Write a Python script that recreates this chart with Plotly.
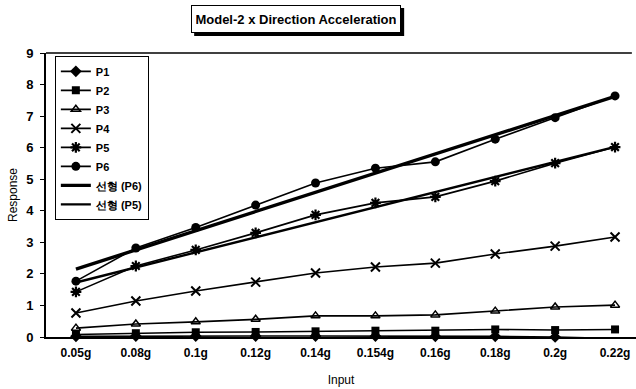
import numpy as np
import plotly.graph_objects as go

# Input levels (categorical x axis)
inputs = ["0.05g", "0.08g", "0.1g", "0.12g", "0.14g", "0.154g", "0.16g", "0.18g", "0.2g", "0.22g"]

# Response per measuring point
p1 = [0.02, 0.03, 0.03, 0.03, 0.03, 0.03, 0.02, 0.02, 0.0, -0.05]
p2 = [0.08, 0.12, 0.15, 0.16, 0.18, 0.2, 0.2, 0.24, 0.22, 0.24]
p3 = [0.28, 0.41, 0.48, 0.56, 0.67, 0.67, 0.70, 0.82, 0.95, 1.01]
p4 = [0.76, 1.14, 1.46, 1.74, 2.03, 2.22, 2.34, 2.63, 2.88, 3.17]
p5 = [1.43, 2.25, 2.76, 3.30, 3.87, 4.25, 4.44, 4.94, 5.51, 6.02]
p6 = [1.77, 2.82, 3.47, 4.18, 4.88, 5.35, 5.55, 6.27, 6.95, 7.64]

y_ticks = list(range(0, 10))

FONT = "Liberation Sans, Arial, sans-serif"
BLACK = "#000000"

idx = np.arange(1, len(inputs) + 1)


def linear_trend(values):
    slope, intercept = np.polyfit(idx, values, 1)
    return list(slope * idx + intercept)


fig = go.Figure()

series = [
    ("P1", p1, dict(symbol="diamond", size=9, color=BLACK)),
    ("P2", p2, dict(symbol="square", size=8, color=BLACK)),
    ("P3", p3, dict(symbol="triangle-up-open", size=8, color=BLACK, line=dict(width=1.5, color=BLACK))),
    ("P4", p4, dict(symbol="x-thin-open", size=9, color=BLACK, line=dict(width=2, color=BLACK))),
    ("P5", p5, dict(symbol="asterisk-open", size=9, color=BLACK, line=dict(width=2.2, color=BLACK))),
    ("P6", p6, dict(symbol="circle", size=9, color=BLACK)),
]

for name, vals, marker in series:
    fig.add_trace(go.Scatter(
        x=inputs, y=vals, name=name, mode="lines+markers",
        line=dict(color=BLACK, width=1.6), marker=marker, cliponaxis=False,
    ))

fig.add_trace(go.Scatter(
    x=inputs, y=linear_trend(p6), name="선형 (P6)", mode="lines",
    line=dict(color=BLACK, width=3.4), cliponaxis=False,
))
fig.add_trace(go.Scatter(
    x=inputs, y=linear_trend(p5), name="선형 (P5)", mode="lines",
    line=dict(color=BLACK, width=2.4), cliponaxis=False,
))

# Boxed title with a drop shadow (shadow drawn as a pixel-sized rectangle)
TITLE_X = 0.424
TITLE_W, TITLE_H = 200, 18
TITLE_PAD = 4
TITLE_SHIFT = 34
half_w = TITLE_W / 2 + TITLE_PAD + 1
half_h = TITLE_H / 2 + TITLE_PAD + 1
fig.add_shape(
    type="rect", xref="paper", yref="paper",
    xsizemode="pixel", ysizemode="pixel", xanchor=TITLE_X, yanchor=1,
    x0=-half_w + 3, x1=half_w + 3,
    y0=TITLE_SHIFT - half_h - 3, y1=TITLE_SHIFT + half_h - 3,
    fillcolor=BLACK, line=dict(width=0), layer="above",
)
fig.add_annotation(
    x=TITLE_X, y=1, xref="paper", yref="paper", yanchor="middle",
    text="<b>Model-2 x Direction Acceleration</b>", showarrow=False,
    font=dict(family=FONT, size=13, color=BLACK),
    width=TITLE_W, height=TITLE_H,
    bgcolor="white", bordercolor=BLACK, borderwidth=1, borderpad=TITLE_PAD,
    yshift=TITLE_SHIFT,
)

# top frame line of the plot area
fig.add_shape(type="line", xref="paper", yref="paper", x0=0, x1=0.993, y0=1, y1=1,
              line=dict(color=BLACK, width=1.5))

tick_font = dict(family=FONT, size=12, color=BLACK, weight="bold")

fig.update_layout(
    width=636, height=389,
    margin=dict(l=46, r=0, t=53, b=52),
    paper_bgcolor="white", plot_bgcolor="white",
    font=dict(family=FONT, size=12, color=BLACK),
    showlegend=True,
    legend=dict(
        x=0.015, y=0.99, xanchor="left", yanchor="top",
        bgcolor="white", bordercolor=BLACK, borderwidth=1,
        font=dict(family=FONT, size=11, color=BLACK, weight="bold"),
        tracegroupgap=0, itemwidth=30,
    ),
    xaxis=dict(
        type="category", range=[-0.5, 9.35],
        showline=True, linecolor=BLACK, linewidth=2,
        showgrid=False, zeroline=False,
        ticks="", ticklabelstandoff=4, tickfont=tick_font,
        title=dict(text="Input", font=dict(family=FONT, size=12, color=BLACK), standoff=16),
    ),
    yaxis=dict(
        range=[0, 9], tickvals=y_ticks,
        showline=True, linecolor=BLACK, linewidth=2,
        showgrid=False, zeroline=False,
        ticks="outside", ticklen=4, tickcolor=BLACK,
        ticklabelstandoff=4,
        tickfont=dict(family=FONT, size=13, color=BLACK, weight="bold"),
        title=dict(text="Response", font=dict(family=FONT, size=12, color=BLACK), standoff=6),
    ),
)

fig.write_html("out.html")
